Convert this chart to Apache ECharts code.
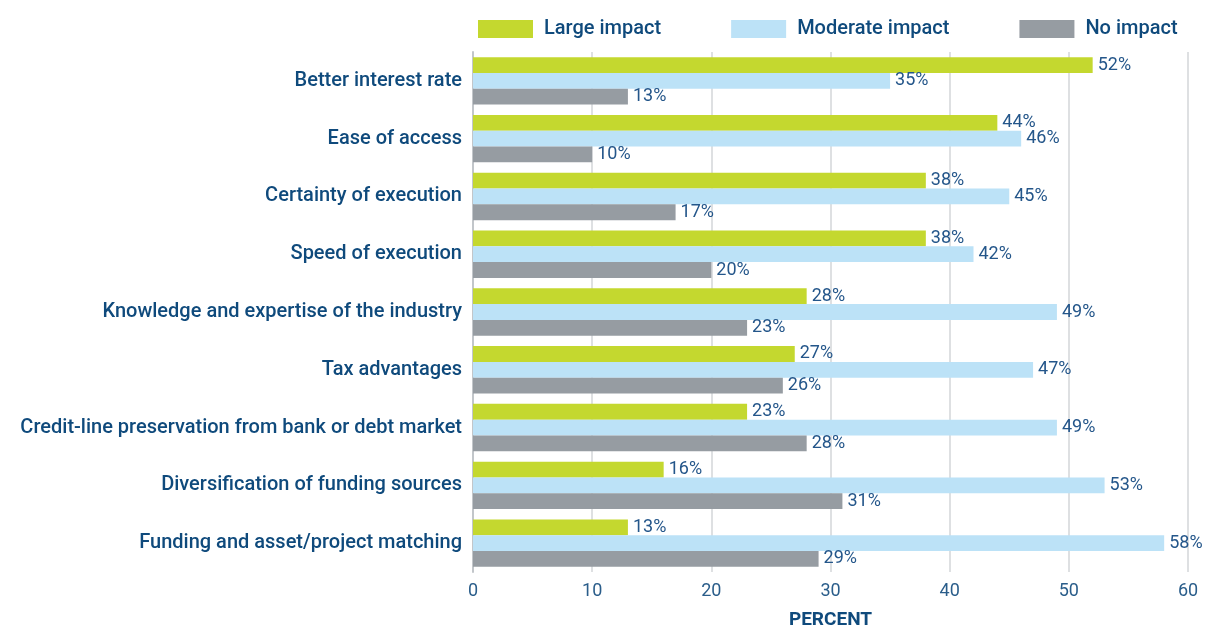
<!DOCTYPE html>
<html>
<head>
<meta charset="utf-8">
<script src="https://cdn.jsdelivr.net/npm/echarts@6/dist/echarts.min.js"></script>
<style>
  html, body { margin: 0; padding: 0; background: #fff; }
  #chart { width: 1211px; height: 635px; }
</style>
</head>
<body>
<div id="chart"></div>
<script>
var categories = [
    'Better interest rate',
    'Ease of access',
    'Certainty of execution',
    'Speed of execution',
    'Knowledge and expertise of the industry',
    'Tax advantages',
    'Credit-line preservation from bank or debt market',
    'Diversification of funding sources',
    'Funding and asset/project matching'
];
var largeImpact = [52, 44, 38, 38, 28, 27, 23, 16, 13];
var moderateImpact = [35, 46, 45, 42, 49, 47, 49, 53, 58];
var noImpact = [13, 10, 17, 20, 23, 26, 28, 31, 29];
var xTicks = [0, 10, 20, 30, 40, 50, 60];

var textBlue = '#0f4a7c';
var font = 'Roboto';

function barSeries(name, data, color) {
    return {
        name: name,
        type: 'bar',
        data: data,
        barGap: '0%',
        barCategoryGap: '18%',
        itemStyle: { color: color },
        label: {
            show: true,
            position: 'right',
            distance: 5,
            formatter: '{c}%',
            color: '#24568a',
            fontSize: 18,
            fontFamily: font
        }
    };
}

var chart = echarts.init(document.getElementById('chart'));
chart.setOption({
    animation: false,
    legend: {
        top: 14,
        left: 473,
        itemWidth: 55,
        itemHeight: 18,
        itemGap: 70,
        icon: 'rect',
        textStyle: { color: textBlue, fontSize: 20, fontWeight: 500, fontFamily: font, padding: [0, 0, 0, 6] },
        data: ['Large impact', 'Moderate impact', 'No impact']
    },
    grid: { left: 473, right: 23, top: 52, bottom: 55 },
    xAxis: {
        type: 'value',
        min: 0,
        max: 60,
        interval: 10,
        name: 'PERCENT',
        nameLocation: 'middle',
        nameGap: 39,
        nameTextStyle: { color: textBlue, fontSize: 19, fontWeight: 'bold', fontFamily: font },
        axisLine: { show: false },
        axisTick: { show: false },
        axisLabel: {
            color: '#2a5d8a', fontSize: 18, fontFamily: font, margin: 10,
            formatter: function (v) { return xTicks.indexOf(v) >= 0 ? String(v) : ''; }
        },
        splitLine: { lineStyle: { color: '#d3d6d9', width: 1.5 } }
    },
    yAxis: {
        type: 'category',
        inverse: true,
        data: categories,
        axisLine: { show: true, lineStyle: { color: '#c2c6ca', width: 2 } },
        axisTick: { show: false },
        axisLabel: { color: textBlue, fontSize: 20, fontWeight: 500, fontFamily: font, margin: 11 }
    },
    series: [
        barSeries('Large impact', largeImpact, '#c4d82f'),
        barSeries('Moderate impact', moderateImpact, '#bce2f7'),
        barSeries('No impact', noImpact, '#969ca2')
    ]
});
</script>
</body>
</html>
